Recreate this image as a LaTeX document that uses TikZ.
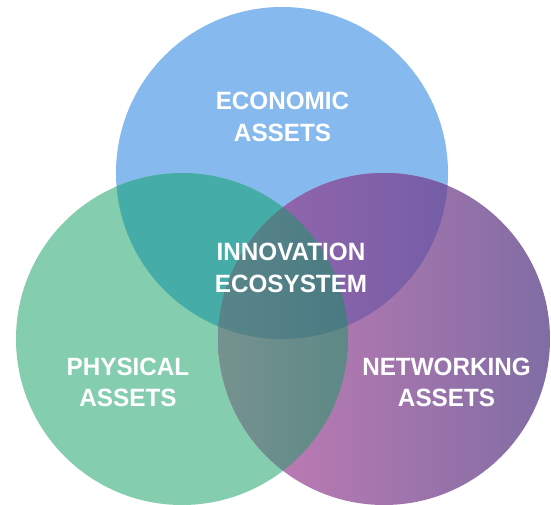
\documentclass[tikz,border=0pt]{standalone}
\usepackage{fontspec}
\setmainfont{Liberation Sans}
\newfontfamily\lblfont[FakeStretch=0.97]{Liberation Sans}
\definecolor{blueC}{HTML}{86B9EE}
\definecolor{greenC}{HTML}{85CDAF}
\definecolor{tealC}{HTML}{45ACA8}
\definecolor{pinkL}{HTML}{C87DB6}
\definecolor{purpR}{HTML}{806DA4}
\definecolor{bpL}{HTML}{9A67AE}
\definecolor{bpR}{HTML}{745EA6}
\definecolor{gpL}{HTML}{76928F}
\definecolor{gpR}{HTML}{5D8986}
\definecolor{ctrL}{HTML}{588589}
\definecolor{ctrR}{HTML}{4A7A82}
\tikzset{
  lbl/.style={text=white, font=\lblfont\bfseries\fontsize{25}{30}\selectfont, anchor=base, inner sep=0pt}
}
\begin{document}
\begin{tikzpicture}[x=1pt,y=-1pt]
\useasboundingbox (0,0) rectangle (551,505);
\def\B{(282,173) circle[radius=166]}
\def\G{(182,339) circle[radius=166]}
\def\P{(384,339) circle[radius=166]}
% base circles
\fill[blueC] \B;
\fill[greenC] \G;
\begin{scope}
  \clip \P;
  \shade[left color=pinkL, right color=purpR] (218,173) rectangle (550,505);
\end{scope}
% blue & green
\begin{scope}
  \clip \B; \clip \G;
  \fill[tealC] (0,0) rectangle (551,505);
\end{scope}
% blue & purple
\begin{scope}
  \clip \B; \clip \P;
  \shade[left color=bpL, right color=bpR] (218,173) rectangle (448,339);
\end{scope}
% green & purple
\begin{scope}
  \clip \G; \clip \P;
  \shade[left color=gpL, right color=gpR] (218,173) rectangle (348,505);
\end{scope}
% all three
\begin{scope}
  \clip \B; \clip \G; \clip \P;
  \shade[left color=ctrL, right color=ctrR] (218,173) rectangle (348,339);
\end{scope}
% labels
\node[lbl] (eco1) at (282.5,110) {ECONOMIC};
\node[lbl] (eco2) at (282.5,141.5) {ASSETS};
\node[lbl] (inn1) at (291,260) {INNOVATION};
\node[lbl] (inn2) at (291,292) {ECOSYSTEM};
\node[lbl] (phy1) at (128,375.5) {PHYSICAL};
\node[lbl] (phy2) at (128,406.5) {ASSETS};
\node[lbl] (net1) at (446.5,375.5) {NETWORKING};
\node[lbl] (net2) at (446.5,406.5) {ASSETS};
\end{tikzpicture}
\end{document}
